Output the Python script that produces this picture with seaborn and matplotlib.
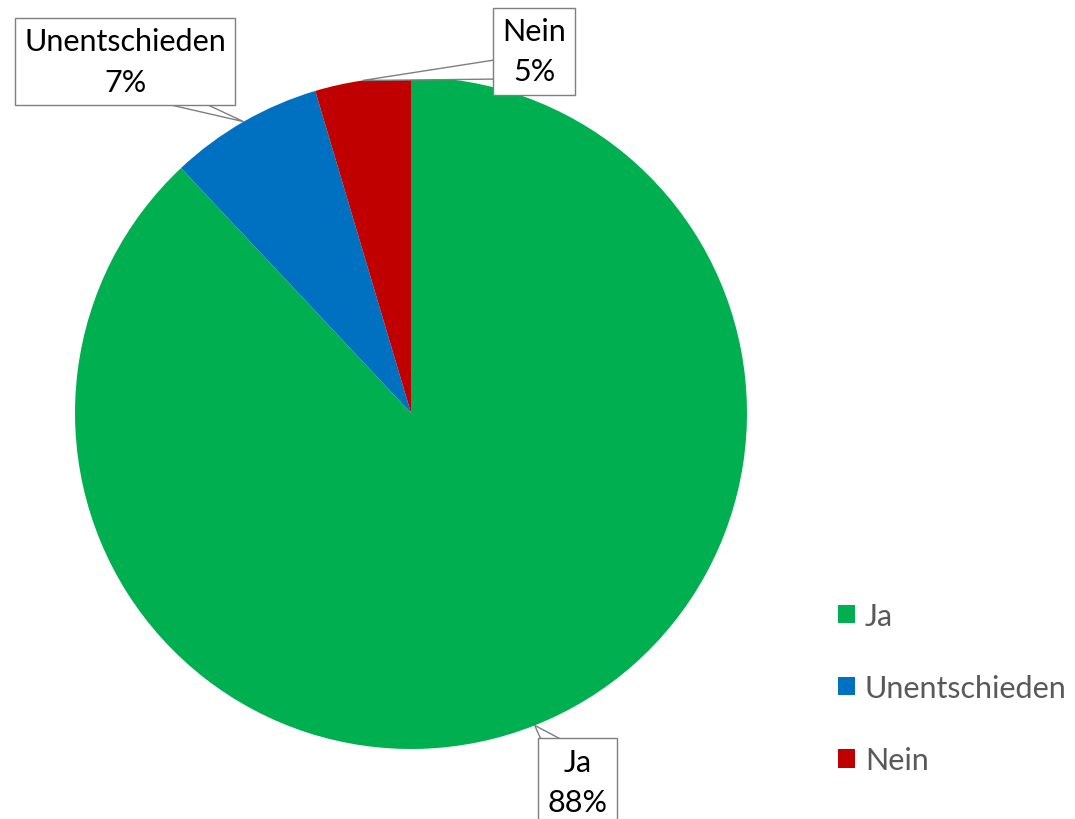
import numpy as np
import matplotlib.pyplot as plt
import seaborn as sns
from matplotlib.patches import Patch, Polygon

#####################################################################
# data
labels = ["Ja", "Unentschieden", "Nein"]
shares = [88.0, 7.4, 4.6]
colors = ["#00B050", "#0070C0", "#C00000"]

# where the callout boxes sit (data coords of the pie axes, radius 1)
label_pos = {"Ja": (0.496, -1.098), "Unentschieden": (-0.85, 1.046), "Nein": (0.366, 1.077)}
# base of the callout pointer (two corners, tucked just inside the box)
pointer_base = {"Ja": [(0.393, -0.985), (0.473, -0.985)],
                "Unentschieden": [(-0.795, 0.935), (-0.643, 0.935)],
                "Nein": [(0.27, 1.054), (0.27, 0.994)]}

#####################################################################
# style
sns.set_theme(style="white")
plt.rcParams['font.family'] = ['Lato', 'DejaVu Sans']

fig = plt.figure(figsize=(10.75, 8.2), dpi=100)
W, H = 1075, 820
cx, cy, r = 411, 414, 336
ax = fig.add_axes([(cx - r) / W, (H - cy - r) / H, 2 * r / W, 2 * r / H])

wedges, _ = ax.pie(shares, colors=colors, startangle=90, counterclock=False,
                   radius=1, wedgeprops=dict(linewidth=0))
ax.set_xlim(-1, 1)
ax.set_ylim(-1, 1)

#####################################################################
# callout labels
for w, lab, val in zip(wedges, labels, shares):
    mid = np.deg2rad((w.theta1 + w.theta2) / 2)
    tip = (np.cos(mid), np.sin(mid))
    ax.add_patch(Polygon([tip] + pointer_base[lab], closed=True, fc="white",
                         ec="#7f7f7f", lw=1, zorder=2.5, clip_on=False))
    ax.text(*label_pos[lab], f"{lab}\n{val:.0f}%", ha="center", va="center",
            fontsize=22, color="black", linespacing=1.55, zorder=3, clip_on=False,
            bbox=dict(boxstyle="square,pad=0.3", fc="white", ec="#7f7f7f", lw=1))

#####################################################################
# legend
handles = [Patch(facecolor=c, edgecolor="none") for c in colors]
leg = fig.legend(handles, labels, loc="center left",
                 bbox_to_anchor=(838 / W, (H - 689) / H), bbox_transform=fig.transFigure,
                 frameon=False, fontsize=22, handlelength=0.55, handleheight=0.55,
                 handletextpad=0.33, labelspacing=1.45, borderpad=0, borderaxespad=0)
for t in leg.get_texts():
    t.set_color("#595959")

plt.savefig("out.png", dpi=100)
